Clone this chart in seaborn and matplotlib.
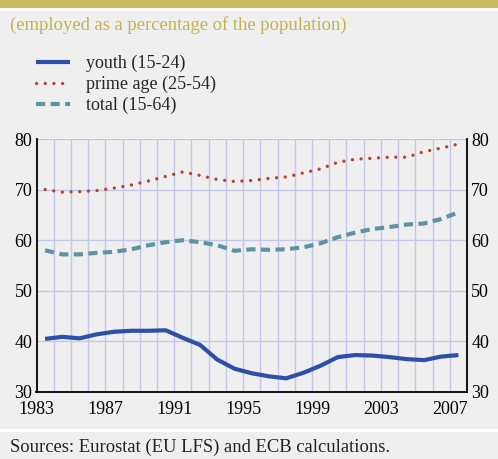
import numpy as np
import pandas as pd
import matplotlib
matplotlib.use("Agg")
import matplotlib.pyplot as plt
import seaborn as sns
from matplotlib.lines import Line2D
from matplotlib.patches import Rectangle

years = list(range(1983, 2008))
youth = [40.5, 40.9, 40.6, 41.4, 41.9, 42.1, 42.1, 42.2, 40.7, 39.3, 36.4, 34.6, 33.7,
         33.1, 32.7, 33.8, 35.2, 36.9, 37.3, 37.2, 36.9, 36.5, 36.3, 37.0, 37.3]
prime_age = [70.0, 69.5, 69.6, 69.8, 70.3, 70.9, 71.7, 72.6, 73.5, 72.8, 72.0, 71.6, 71.8,
             72.2, 72.5, 73.3, 74.1, 75.4, 76.0, 76.2, 76.4, 76.4, 77.5, 78.2, 79.0]
total = [58.0, 57.2, 57.2, 57.5, 57.7, 58.2, 59.0, 59.6, 60.0, 59.6, 59.0, 57.9, 58.2,
         58.1, 58.2, 58.6, 59.4, 60.6, 61.5, 62.2, 62.6, 63.1, 63.3, 64.2, 65.5]
series_names = ["youth (15-24)", "prime age (25-54)", "total (15-64)"]
tick_years = [1983, 1987, 1991, 1995, 1999, 2003, 2007]
y_ticks = [30, 40, 50, 60, 70, 80]
subtitle = "(employed as a percentage of the population)"
source = "Sources: Eurostat (EU LFS) and ECB calculations."

BG = "#efefef"
GOLD = "#cbbd5f"
GOLD_TXT = "#c4b448"
GRID = "#c3c6ea"
C_YOUTH = "#2e4fa9"
C_PRIME = "#b8412f"
C_TOTAL = "#5f93a3"

sns.set_theme(style="white")
plt.rcParams["font.family"] = ["Liberation Serif", "DejaVu Serif"]

W, H = 498, 459
fig = plt.figure(figsize=(W / 100, H / 100), dpi=100, facecolor=BG)

# header band and separators
fig.patches.append(Rectangle((0, 1 - 8 / H), 1, 8 / H, transform=fig.transFigure,
                             facecolor=GOLD, edgecolor="none"))
fig.patches.append(Rectangle((0, 1 - 11 / H), 1, 2.5 / H, transform=fig.transFigure,
                             facecolor="white", edgecolor="none"))
fig.patches.append(Rectangle((0, 1 - 432 / H), 1, 3 / H, transform=fig.transFigure,
                             facecolor="white", edgecolor="none"))

left, right, top, bottom = 36.5, 467, 139, 392
ax = fig.add_axes([left / W, 1 - bottom / H, (right - left) / W, (bottom - top) / H])
ax.set_facecolor(BG)

df = pd.DataFrame({"year": years, "youth": youth, "prime": prime_age, "total": total})
df["x"] = df["year"] + 0.5

sns.lineplot(data=df, x="x", y="youth", ax=ax, color=C_YOUTH, lw=3.0,
             solid_capstyle="butt", zorder=4)
sns.lineplot(data=df, x="x", y="prime", ax=ax, color=C_PRIME, lw=2.4,
             linestyle=(0, (0.01, 2.6)), dash_capstyle="round", zorder=4)
sns.lineplot(data=df, x="x", y="total", ax=ax, color=C_TOTAL, lw=3.0,
             linestyle=(0, (2.2, 1.3)), dash_capstyle="butt", zorder=4)

ax.set_xlim(1983, 2008)
ax.set_ylim(30, 80)
ax.set_xlabel("")
ax.set_ylabel("")

ax.set_xticks(list(range(1983, 2009)))
ax.set_xticklabels([str(y) if y in tick_years else "" for y in range(1983, 2009)])
ax.set_yticks(y_ticks)
ax.set_yticklabels([str(v) for v in y_ticks])
for v in y_ticks[1:]:
    ax.axhline(v, color=GRID, lw=1.0, zorder=1)
for yr in range(1984, 2008):
    ax.axvline(yr, color=GRID, lw=1.0, zorder=1)

ax.tick_params(axis="x", direction="out", length=4, width=1.2, color="black",
               labelsize=13, pad=2.5, labelcolor="black")
ax.tick_params(axis="y", length=0, labelsize=13, pad=3, labelcolor="black",
               labelleft=True, labelright=True)
for side in ["left", "right", "bottom"]:
    ax.spines[side].set_visible(True)
    ax.spines[side].set_color("black")
    ax.spines[side].set_linewidth(1.3)
ax.spines["top"].set_visible(False)
ax.grid(False)

fig.text(10 / W, 1 - 25 / H, subtitle, color=GOLD_TXT, fontsize=13.4, va="center", ha="left")

handles = [
    Line2D([0], [0], color=C_YOUTH, lw=3.0, solid_capstyle="butt"),
    Line2D([0], [0], color=C_PRIME, lw=2.4, linestyle=(0, (0.01, 2.6)), dash_capstyle="round"),
    Line2D([0], [0], color=C_TOTAL, lw=3.0, linestyle=(0, (2.2, 1.3))),
]
leg = fig.legend(handles, series_names, loc="upper left",
                 bbox_to_anchor=(36 / W, 1 - 55 / H), frameon=False, fontsize=13,
                 handlelength=1.9, handletextpad=0.85, labelspacing=0.2,
                 borderaxespad=0, borderpad=0)

fig.text(10 / W, 1 - 447 / H, source, color="#222222", fontsize=13.4, va="center", ha="left")

fig.savefig("out.png", dpi=100, facecolor=BG)
